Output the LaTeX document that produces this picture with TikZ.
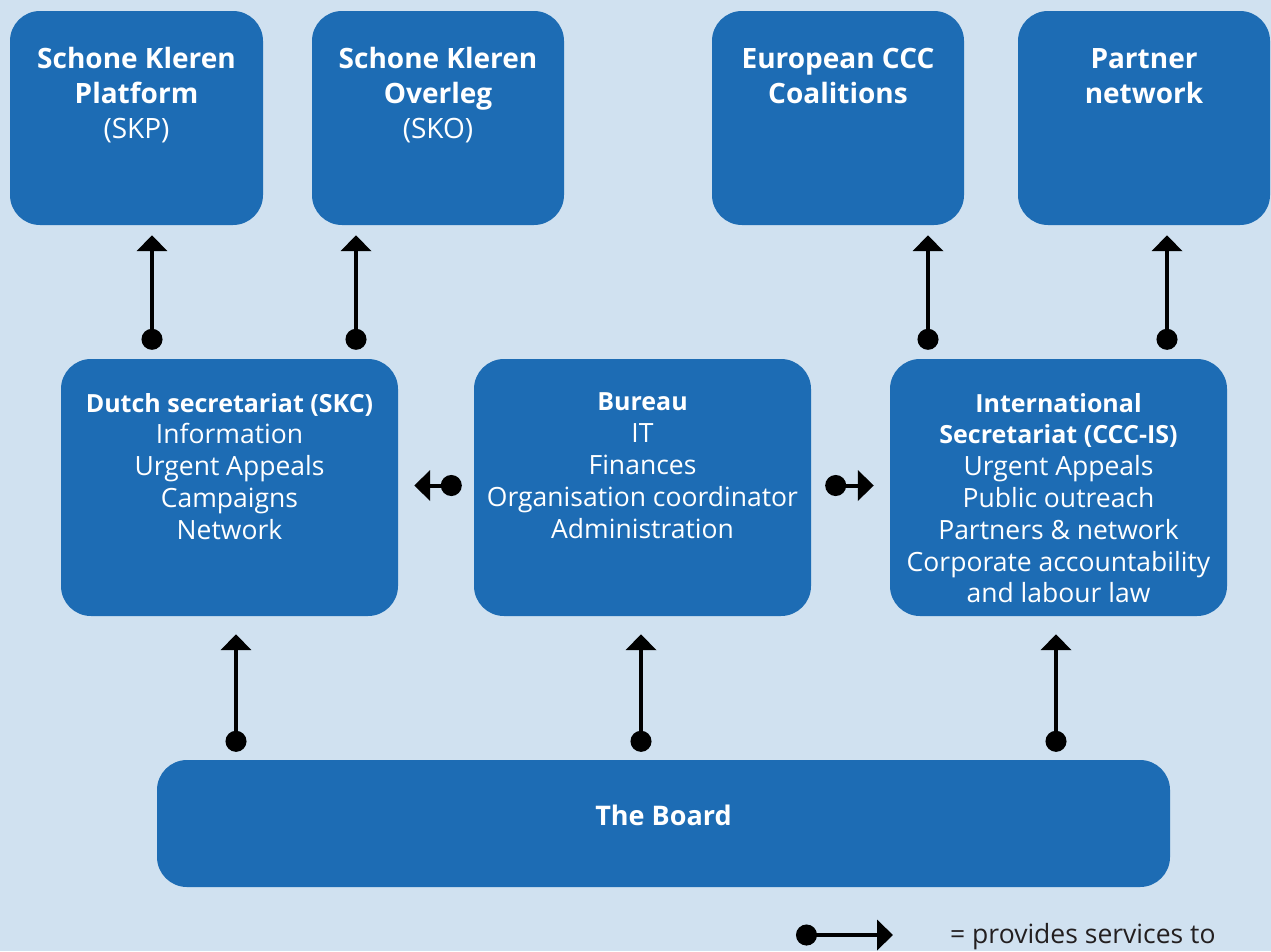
\documentclass[tikz,border=0pt]{standalone}
\usepackage{fontspec}
\setmainfont{Open Sans}
\usetikzlibrary{arrows.meta, positioning}
\definecolor{boxblue}{RGB}{29,108,180}
\definecolor{bgblue}{RGB}{208,225,240}
\definecolor{legendgrey}{RGB}{35,31,32}
\newcommand{\unithead}[1]{{\fontsize{25}{31.8}\selectfont\bfseries #1}}
\tikzset{
  unit/.style={fill=boxblue, rounded corners=30pt, inner sep=0pt},
  toptext/.style={text=white, align=center, anchor=north, inner sep=0pt, font=\fontsize{28}{35}\selectfont},
  midtext/.style={text=white, align=center, anchor=north, inner sep=0pt, font=\fontsize{26.5}{31.8}\selectfont},
  serv/.style={line width=4pt, {Circle[length=21pt]}-{Triangle[width=30pt,length=16pt]}},
}

\begin{document}
\begin{tikzpicture}[x=1pt, y=-1pt]
        \fill[bgblue] (0,0) rectangle (1271,951);
        \useasboundingbox (0,0) rectangle (1271,951);

        % top row
        \node[unit, minimum width=253pt, minimum height=214pt] (skp) at (136.5,118) {};
        \node[unit, minimum width=252pt, minimum height=214pt] (sko) at (438,118) {};
        \node[unit, minimum width=252pt, minimum height=214pt] (euro) at (838,118) {};
        \node[unit, minimum width=252pt, minimum height=214pt] (partner) at (1144,118) {};

        \node[toptext] (skptext) at ([yshift=-36pt]skp.north) {\textbf{Schone Kleren}\\\textbf{Platform}\\(SKP)};
        \node[toptext] (skotext) at ([yshift=-36pt]sko.north) {\textbf{Schone Kleren}\\\textbf{Overleg}\\(SKO)};
        \node[toptext] (eurotext) at ([yshift=-37pt]euro.north) {\textbf{European CCC}\\\textbf{Coalitions}};
        \node[toptext] (partnertext) at ([yshift=-38pt]partner.north) {\textbf{Partner}\\\textbf{network}};

        % middle row
        \node[unit, minimum width=337pt, minimum height=257pt] (dutch) at (229.5,487.5) {};
        \node[unit, minimum width=337pt, minimum height=257pt] (bureau) at (642.5,487.5) {};
        \node[unit, minimum width=337pt, minimum height=257pt] (intl) at (1058.5,487.5) {};

        \node[midtext] (dutchtext) at ([yshift=-34pt]dutch.north) {\unithead{Dutch secretariat (SKC)}\\Information\\Urgent Appeals\\Campaigns\\Network};
        \node[midtext] (bureautext) at ([yshift=-34pt]bureau.north) {\unithead{Bureau}\\IT\\Finances\\Organisation coordinator\\Administration};
        \node[midtext] (intltext) at ([yshift=-34pt]intl.north) {\unithead{International}\\\unithead{Secretariat (CCC-IS)}\\Urgent Appeals\\Public outreach\\Partners \& network\\Corporate accountability\\and labour law};

        % board
        \node[unit, minimum width=1013pt, minimum height=127pt, text=white, font=\fontsize{27}{30}\selectfont\bfseries] (board) at (663.5,823.5) {\raisebox{16pt}{The Board}};

        % services
        \draw[serv] ([xshift=-77.5pt,yshift=9pt]dutch.north) -- ([xshift=15.5pt,yshift=-10pt]skp.south);
        \draw[serv] ([xshift=126.5pt,yshift=9pt]dutch.north) -- ([xshift=-82pt,yshift=-10pt]sko.south);
        \draw[serv] ([xshift=-130.5pt,yshift=9pt]intl.north) -- ([xshift=90pt,yshift=-10pt]euro.south);
        \draw[serv] ([xshift=108.5pt,yshift=9pt]intl.north) -- ([xshift=23pt,yshift=-10pt]partner.south);

        \draw[serv] ([xshift=-427.5pt,yshift=8pt]board.north) -- ([xshift=6.5pt,yshift=-18pt]dutch.south);
        \draw[serv] ([xshift=-22.5pt,yshift=8pt]board.north) -- ([xshift=-1.5pt,yshift=-18pt]bureau.south);
        \draw[serv] ([xshift=392.5pt,yshift=8pt]board.north) -- ([xshift=-2.5pt,yshift=-18pt]intl.south);

        \draw[serv] ([xshift=-12pt,yshift=2pt]bureau.west) -- ([xshift=16pt,yshift=2pt]dutch.east);
        \draw[serv] ([xshift=14pt,yshift=2pt]bureau.east) -- ([xshift=-16pt,yshift=2pt]intl.west);

        % legend
        \coordinate (legfrom) at (796,935);
        \coordinate (legto) at (893,935);
        \draw[serv] (legfrom) -- (legto);
        \node[anchor=west, inner sep=0pt, text=legendgrey, font=\fontsize{26.5}{30}\selectfont] (legtext) at (950,937) {= provides services to};
\end{tikzpicture}
\end{document}
